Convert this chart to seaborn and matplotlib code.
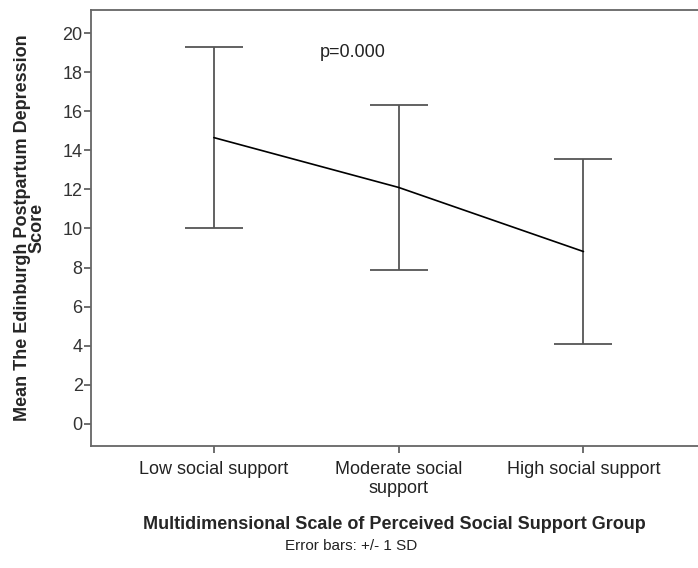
import numpy as np
import pandas as pd
import matplotlib
matplotlib.use("Agg")
import matplotlib.pyplot as plt
import seaborn as sns

sns.set_style("white")
plt.rcParams['font.family'] = ['Liberation Sans', 'DejaVu Sans']

# summary values
groups = ["Low social support", "Moderate social\nsupport", "High social support"]
means = [14.65, 12.10, 8.82]
sds = [4.65, 4.20, 4.73]
yticks = list(range(0, 21, 2))

df = pd.DataFrame({"group": groups, "mean": means, "sd": sds})

fig = plt.figure(figsize=(6.98, 5.68), dpi=100)
ax = fig.add_axes([0.1304, 0.2148, 0.8696, 0.7676])

xpos = np.arange(len(groups))
ax.errorbar(xpos, df["mean"], yerr=df["sd"], fmt="none", ecolor="#555555",
            elinewidth=1.3, capsize=21, capthick=1.3, zorder=2)
sns.lineplot(x=xpos, y=df["mean"], ax=ax, color="black", linewidth=1.2,
             marker=None, zorder=3)

ax.set_xlim(-0.665, 2.62)
ax.set_ylim(-1.13, 21.18)
ax.set_xticks(xpos)
ax.set_xticklabels(groups, fontsize=13, color="#222222", linespacing=1.1)
ax.set_yticks(yticks)
ax.set_yticklabels([str(v) for v in yticks], fontsize=13, color="#333333")

for side in ["left", "top", "bottom"]:
    ax.spines[side].set_color("#666666")
    ax.spines[side].set_linewidth(1.3)
ax.spines["right"].set_visible(False)
ax.tick_params(axis="both", direction="out", length=5, width=1.2,
               color="#555555", left=True, bottom=True)
ax.tick_params(axis="y", pad=1)
ax.tick_params(axis="x", pad=6)

ax.set_xlabel("Multidimensional Scale of Perceived Social Support Group",
              fontsize=13, fontweight="bold", labelpad=14)
ax.set_ylabel("Mean The Edinburgh Postpartum Depression\nScore",
              fontsize=13, fontweight="bold", linespacing=0.85, labelpad=12)

ax.text(0.75, 19.0, "p=0.000", fontsize=13, color="#222222",
        ha="center", va="center")
fig.text(0.503, 0.039, "Error bars: +/- 1 SD", fontsize=11, color="#222222",
         ha="center", va="center")

fig.savefig("out.png", dpi=100)
